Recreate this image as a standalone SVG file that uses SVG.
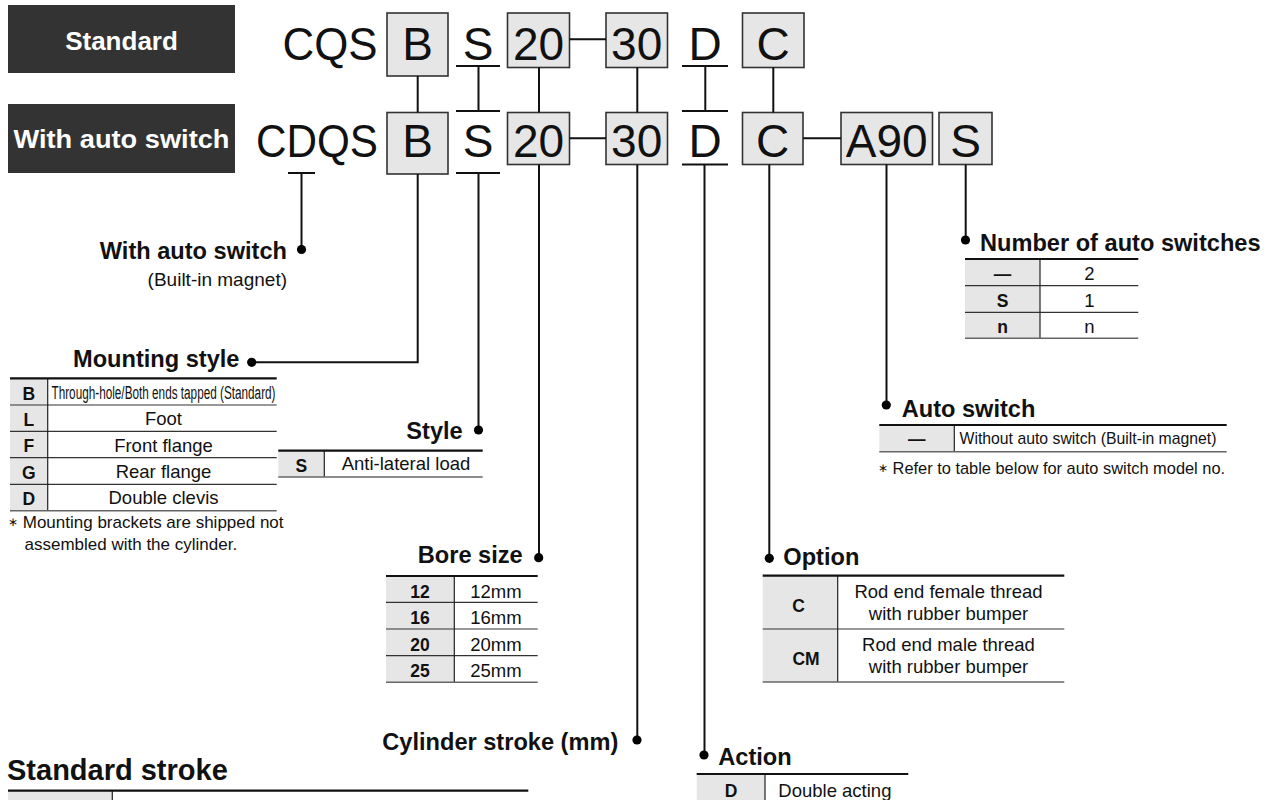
<svg xmlns="http://www.w3.org/2000/svg" width="1273" height="800" viewBox="0 0 1273 800">
<style>
text{font-family:"Liberation Sans",Arial,sans-serif;fill:#111}
.hdr{fill:#333}
.hdrt{fill:#fff;font-weight:bold;text-anchor:middle}
.code{font-size:46px;text-anchor:middle}
.cbox{fill:#e6e6e6;stroke:#333;stroke-width:1.6}
.ln{stroke:#111;stroke-width:2;fill:none}
.lbl{font-weight:bold;font-size:23.6px}
.key{fill:#e6e6e6}
.k{font-weight:bold;font-size:17.5px;text-anchor:middle}
.v{font-size:18.5px;text-anchor:middle}
.top{stroke:#111;stroke-width:2.2}
.sep{stroke:#333;stroke-width:1.2}
.bot{stroke:#666;stroke-width:1.6}
.div{stroke:#222;stroke-width:1.2}
.note{font-size:17px}
</style>
<defs>
<circle id="dot" r="4.6" fill="#000"/>
</defs>

<g id="header-standard">
<rect class="hdr" x="8" y="5" width="227" height="68"/>
<text class="hdrt" x="121.5" y="49.5" font-size="26">Standard</text>
</g>
<g id="header-autoswitch">
<rect class="hdr" x="8" y="104" width="227" height="69"/>
<text class="hdrt" x="121.5" y="148" font-size="26" textLength="216" lengthAdjust="spacingAndGlyphs">With auto switch</text>
</g>

<g id="code-row1">
<text class="code" x="330" y="59.5" textLength="95" lengthAdjust="spacingAndGlyphs">CQS</text>
<rect class="cbox" x="387" y="13" width="61" height="63"/>
<text class="code" x="417.5" y="59.5">B</text>
<text class="code" x="478" y="59.5">S</text>
<rect class="cbox" x="507.5" y="13" width="62" height="54.5"/>
<text class="code" x="538.5" y="59.5">20</text>
<rect class="cbox" x="606" y="13" width="61.5" height="54.5"/>
<text class="code" x="636.7" y="59.5">30</text>
<text class="code" x="705" y="59.5">D</text>
<rect class="cbox" x="742.5" y="13" width="61.5" height="54.5"/>
<text class="code" x="773.2" y="59.5">C</text>
</g>

<g id="code-row2">
<text class="code" x="317" y="156.5" textLength="122" lengthAdjust="spacingAndGlyphs">CDQS</text>
<rect class="cbox" x="387" y="112.5" width="61" height="61.5"/>
<text class="code" x="417.5" y="156.5">B</text>
<text class="code" x="478" y="156.5">S</text>
<rect class="cbox" x="507.5" y="112.5" width="62" height="52"/>
<text class="code" x="538.5" y="156.5">20</text>
<rect class="cbox" x="606" y="112.5" width="61.5" height="52"/>
<text class="code" x="636.7" y="156.5">30</text>
<text class="code" x="705" y="156.5">D</text>
<rect class="cbox" x="742.5" y="112.5" width="60.5" height="52"/>
<text class="code" x="772.7" y="156.5">C</text>
<rect class="cbox" x="841" y="112.5" width="91.5" height="52"/>
<text class="code" x="886.7" y="156.5">A90</text>
<rect class="cbox" x="939" y="112.5" width="53" height="52"/>
<text class="code" x="965.5" y="156.5">S</text>
</g>

<g id="connectors">
<path class="ln" d="M569.5 39.3H606M569.5 138.3H606M803 138.3H841"/>
<path class="ln" d="M456 66H500M682 66H728M456 111H500M682 111H728M456 173H500M682 164.5H728M288 173H315"/>
<path class="ln" d="M417.7 76V112.5M478.5 66V111M539 67.5V112.5M637.3 67.5V112.5M705.3 66V111M773.3 67.5V112.5"/>
<path class="ln" d="M301.5 173V249.5"/>
<path class="ln" d="M417.7 174V362.3H251.7"/>
<path class="ln" d="M478.5 173V430"/>
<path class="ln" d="M539 164.5V557.7"/>
<path class="ln" d="M637.3 164.5V740"/>
<path class="ln" d="M704.5 164.5V755"/>
<path class="ln" d="M769.3 164.5V558.3"/>
<path class="ln" d="M886.5 164.5V405"/>
<path class="ln" d="M965.7 164.5V240"/>
<use href="#dot" x="301.5" y="249.5"/>
<use href="#dot" x="251.7" y="362.3"/>
<use href="#dot" x="478.5" y="430"/>
<use href="#dot" x="538.7" y="557.7"/>
<use href="#dot" x="637" y="740"/>
<use href="#dot" x="704" y="755"/>
<use href="#dot" x="769.3" y="558.3"/>
<use href="#dot" x="886.3" y="405"/>
<use href="#dot" x="965.5" y="240"/>
</g>

<g id="with-auto-switch">
<text class="lbl" x="287" y="259" text-anchor="end">With auto switch</text>
<text x="287" y="286" text-anchor="end" font-size="19">(Built-in magnet)</text>
</g>

<g id="mounting-style">
<text class="lbl" x="239.5" y="367.3" text-anchor="end">Mounting style</text>
<rect class="key" x="10" y="378.3" width="37.7" height="132.4"/>
<path class="sep" d="M10 405H276.7M10 431.3H276.7M10 457.7H276.7M10 484.3H276.7"/>
<path class="div" d="M47.7 378.3V510.7"/>
<path class="top" d="M10 378.3H276.7"/>
<path class="bot" d="M10 510.7H276.7"/>
<text class="k" x="28.8" y="399.5">B</text>
<text class="k" x="28.8" y="426">L</text>
<text class="k" x="28.8" y="452.3">F</text>
<text class="k" x="28.8" y="478.7">G</text>
<text class="k" x="28.8" y="505.3">D</text>
<text x="51.5" y="399" font-size="18" textLength="224" lengthAdjust="spacingAndGlyphs">Through-hole/Both ends tapped (Standard)</text>
<text class="v" x="163.5" y="425.3" font-size="19.5">Foot</text>
<text class="v" x="163.5" y="451.5" font-size="19.5">Front flange</text>
<text class="v" x="163.5" y="477.8" font-size="19.5">Rear flange</text>
<text class="v" x="163.5" y="504.3" font-size="19.5">Double clevis</text>
<text class="note" x="8" y="528.3"><tspan font-size="12" dy="-2">∗</tspan><tspan dy="2"> Mounting brackets are shipped not</tspan></text>
<text class="note" x="24.5" y="550">assembled with the cylinder.</text>
</g>

<g id="style">
<text class="lbl" x="462.7" y="439.3" text-anchor="end">Style</text>
<rect class="key" x="278.3" y="450.7" width="46" height="26.3"/>
<path class="div" d="M324.3 450.7V477"/>
<path class="top" d="M278.3 450.7H482.7"/>
<path class="bot" d="M278.3 477H482.7"/>
<text class="k" x="301.3" y="471.5">S</text>
<text class="v" x="406" y="469.5">Anti-lateral load</text>
</g>

<g id="bore-size">
<text class="lbl" x="522.7" y="563.3" text-anchor="end">Bore size</text>
<rect class="key" x="386" y="576" width="68.3" height="106.3"/>
<path class="sep" d="M386 602.3H537.7M386 629H537.7M386 655.7H537.7"/>
<path class="div" d="M454.3 576V682.3"/>
<path class="top" d="M386 576H537.7"/>
<path class="bot" d="M386 682.3H537.7"/>
<text class="k" x="420" y="597.5">12</text>
<text class="k" x="420" y="624">16</text>
<text class="k" x="420" y="650.7">20</text>
<text class="k" x="420" y="677">25</text>
<text class="v" x="496" y="597.5" font-size="18">12mm</text>
<text class="v" x="496" y="624" font-size="18">16mm</text>
<text class="v" x="496" y="650.7" font-size="18">20mm</text>
<text class="v" x="496" y="677" font-size="18">25mm</text>
</g>

<g id="cylinder-stroke">
<text class="lbl" x="618.3" y="750" text-anchor="end">Cylinder stroke (mm)</text>
</g>

<g id="option">
<text class="lbl" x="783.3" y="565">Option</text>
<rect class="key" x="762.7" y="575.7" width="75" height="106.3"/>
<path class="sep" d="M762.7 629H1064.3"/>
<path class="div" d="M837.7 575.7V682"/>
<path class="top" d="M762.7 575.7H1064.3"/>
<path class="bot" d="M762.7 682H1064.3"/>
<text class="k" x="798.5" y="611.5">C</text>
<text class="k" x="806" y="664.5">CM</text>
<text class="v" x="948.5" y="598.3">Rod end female thread</text>
<text class="v" x="948.5" y="620">with rubber bumper</text>
<text class="v" x="948.5" y="650.7">Rod end male thread</text>
<text class="v" x="948.5" y="672.7">with rubber bumper</text>
</g>

<g id="action">
<text class="lbl" x="718.3" y="765">Action</text>
<rect class="key" x="696.7" y="774" width="68.3" height="30"/>
<path class="div" d="M765 774V804"/>
<path class="top" d="M696.7 774H908.3"/>
<text class="k" x="731" y="796.5">D</text>
<text x="778.3" y="796.5" font-size="18.5">Double acting</text>
</g>

<g id="auto-switch">
<text class="lbl" x="901.7" y="417.3">Auto switch</text>
<rect class="key" x="879.3" y="425" width="75" height="26.7"/>
<path class="div" d="M954.3 425V451.7"/>
<path class="top" d="M879.3 425H1226.7"/>
<path class="bot" d="M879.3 451.7H1226.7"/>
<text class="k" x="916.7" y="445">—</text>
<text x="959.5" y="444" font-size="17" textLength="257" lengthAdjust="spacingAndGlyphs">Without auto switch (Built-in magnet)</text>
<text x="878" y="474" font-size="16.4"><tspan font-size="12" dy="-2">∗</tspan><tspan dy="2"> Refer to table below for auto switch model no.</tspan></text>
</g>

<g id="number-of-switches">
<text class="lbl" x="980" y="250.7">Number of auto switches</text>
<rect class="key" x="965" y="259" width="75" height="79.3"/>
<path class="sep" d="M965 285.7H1138.3M965 312.3H1138.3"/>
<path class="div" d="M1040 259V338.3"/>
<path class="top" d="M965 259H1138.3"/>
<path class="bot" d="M965 338.3H1138.3"/>
<text class="k" x="1002.5" y="280">—</text>
<text class="k" x="1002.5" y="306.7">S</text>
<text class="k" x="1002.5" y="333.3">n</text>
<text class="v" x="1089.3" y="280" font-size="18">2</text>
<text class="v" x="1089.3" y="306.7" font-size="18">1</text>
<text class="v" x="1089.3" y="333.3" font-size="18">n</text>
</g>

<g id="standard-stroke">
<text x="7" y="780" font-weight="bold" font-size="29">Standard stroke</text>
<rect class="key" x="8" y="790.7" width="104.3" height="12"/>
<path class="div" d="M112.3 790.7V802"/>
<path class="top" d="M8 790.7H528.3"/>
</g>
</svg>
